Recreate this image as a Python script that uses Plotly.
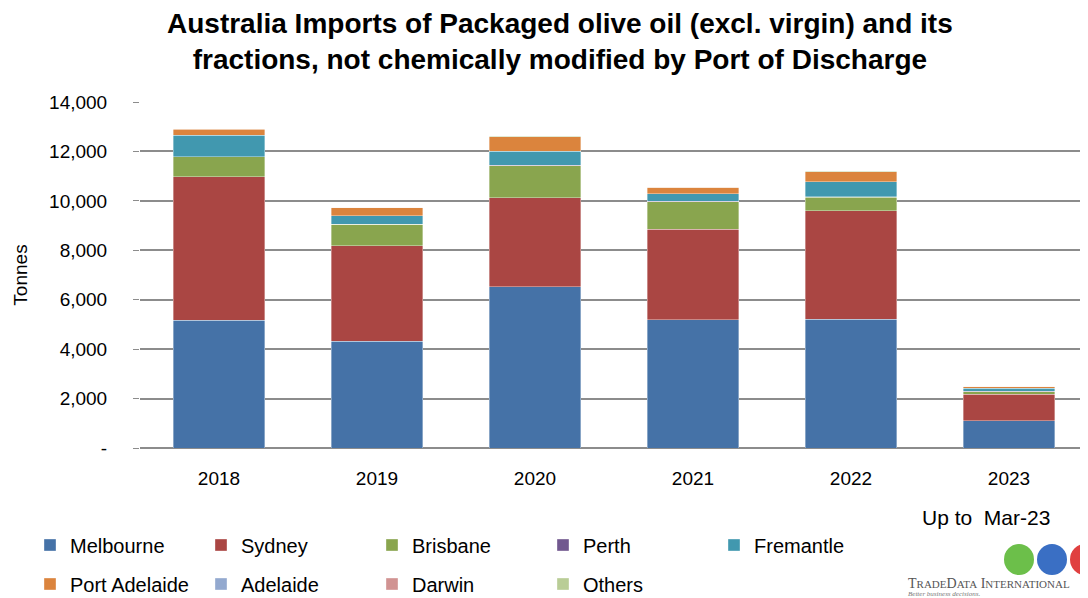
import plotly.graph_objects as go

years = ["2018", "2019", "2020", "2021", "2022", "2023"]

melbourne = [5160, 4320, 6520, 5190, 5210, 1110]
sydney = [5815, 3860, 3600, 3660, 4390, 1065]
brisbane = [800, 865, 1310, 1120, 555, 110]
perth = [10, 5, 10, 5, 5, 5]
fremantle = [875, 345, 575, 320, 615, 120]
port_adelaide = [245, 340, 580, 260, 405, 90]
adelaide = [5, 5, 5, 5, 5, 3]
darwin = [3, 3, 3, 3, 3, 2]
others = [5, 5, 5, 5, 5, 3]

y_ticks = [0, 2000, 4000, 6000, 8000, 10000, 12000, 14000]
y_labels = ["-", "2,000", "4,000", "6,000", "8,000", "10,000", "12,000", "14,000"]

series = [
    ("Melbourne", melbourne, "#4572A7", "legend"),
    ("Sydney", sydney, "#AA4643", "legend"),
    ("Brisbane", brisbane, "#89A54E", "legend"),
    ("Perth", perth, "#71588F", "legend"),
    ("Fremantle", fremantle, "#4198AF", "legend"),
    ("Port Adelaide", port_adelaide, "#DB843D", "legend2"),
    ("Adelaide", adelaide, "#93A9CF", "legend2"),
    ("Darwin", darwin, "#D19392", "legend2"),
    ("Others", others, "#B9CD96", "legend2"),
]

font = "Liberation Sans"
W, H = 1080, 590  # page body has an 8px margin


def cx(px):
    return (px - 8) / W


def cy(py):
    return 1 - (py - 8) / H


# paper coords (plot area spans page x 140..1088, y 102..448)
def pxp(px):
    return (px - 140) / 948


def pyp(py):
    return (448 - py) / 346


fig = go.Figure()
for name, vals, col, leg in series:
    fig.add_trace(go.Bar(
        x=years, y=vals, name=name, legend=leg,
        marker=dict(color=col, line=dict(color="rgba(255,255,255,0.6)", width=0.6)),
    ))

legend_style = dict(
    orientation="h", xref="container", yref="container",
    xanchor="left", yanchor="middle",
    entrywidth=126, entrywidthmode="pixels",
    font=dict(family=font, size=20, color="#000"),
    bgcolor="rgba(0,0,0,0)", itemclick=False,
    traceorder="normal",
)

fig.update_layout(
    width=W, height=H,
    barmode="stack", bargap=0.42,
    plot_bgcolor="white", paper_bgcolor="white",
    margin=dict(l=132, r=0, t=94, b=150, autoexpand=False),
    font=dict(family=font, color="#000"),
    legend=dict(x=cx(30), y=cy(545), **legend_style),
    legend2=dict(x=cx(30), y=cy(584), **legend_style),
    showlegend=True,
)

# title as annotation so both lines sit where the reference has them
fig.add_annotation(
    text="<b>Australia Imports of Packaged olive oil (excl. virgin) and its<br>"
         "fractions, not chemically modified by Port of Discharge</b>",
    xref="paper", yref="paper", x=pxp(560), y=pyp(42),
    xanchor="center", yanchor="middle", showarrow=False,
    font=dict(family=font, size=28, color="#000"),
)

fig.update_xaxes(
    showline=False, ticks="", ticklabelstandoff=17,
    tickfont=dict(family=font, size=19, color="#000"),
)
fig.update_yaxes(
    range=[0, 14000], tickvals=y_ticks, ticktext=y_labels,
    showgrid=True, gridcolor="#8c8c8c", gridwidth=1.5,
    zeroline=True, zerolinecolor="#8c8c8c", zerolinewidth=1.5,
    ticks="outside", ticklen=6, tickcolor="#8c8c8c", tickwidth=1,
    ticklabelstandoff=22,
    tickfont=dict(family=font, size=19, color="#000"),
    title=dict(text="Tonnes", font=dict(family=font, size=19, color="#000"), standoff=16),
)

fig.add_annotation(
    text="Up to  Mar-23", xref="paper", yref="paper", x=pxp(1052), y=pyp(517),
    xanchor="right", yanchor="middle", showarrow=False,
    font=dict(family=font, size=21, color="#000"),
)

# logo stand-in
for c, col in [(1019, "#6cbf4a"), (1052, "#3a6fc4"), (1085, "#e04040")]:
    fig.add_shape(type="circle", xref="paper", yref="paper",
                  x0=pxp(c - 15), x1=pxp(c + 15),
                  y0=pyp(575), y1=pyp(544),
                  fillcolor=col, line=dict(width=0), layer="above")
fig.add_annotation(
    text="T<span style='font-size:11px'>RADE</span>D<span style='font-size:11px'>ATA</span> I<span style='font-size:11px'>NTERNATIONAL</span>",
    xref="paper", yref="paper", x=pxp(906), y=pyp(583),
    xanchor="left", yanchor="middle", showarrow=False,
    font=dict(family="Liberation Serif", size=14, color="#555"),
)
fig.add_annotation(
    text="<i>Better business decisions.</i>",
    xref="paper", yref="paper", x=pxp(906), y=pyp(594),
    xanchor="left", yanchor="middle", showarrow=False,
    font=dict(family="Liberation Serif", size=7, color="#777"),
)

fig.write_html("out.html")
